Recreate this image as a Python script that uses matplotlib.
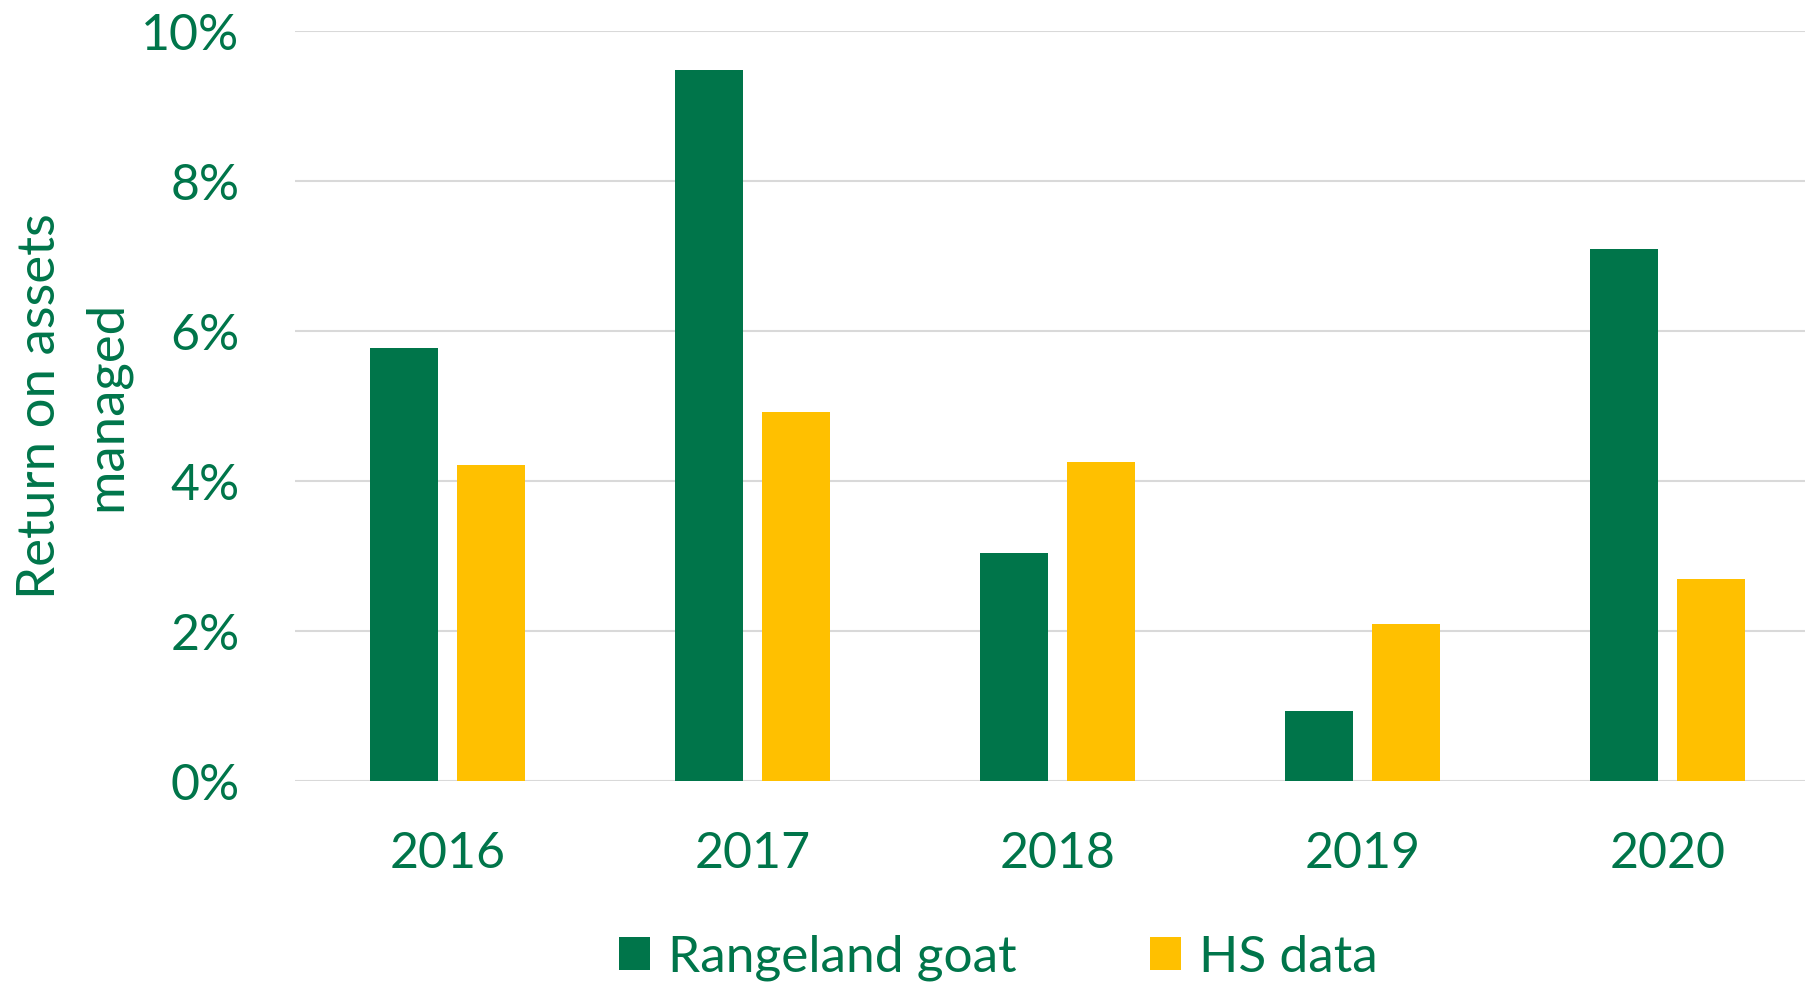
import numpy as np
import matplotlib.pyplot as plt
from matplotlib.ticker import FuncFormatter

years = ['2016', '2017', '2018', '2019', '2020']
rangeland_goat = [5.78, 9.48, 3.04, 0.94, 7.09]
hs_data = [4.22, 4.92, 4.25, 2.10, 2.70]

green = '#00754A'
yellow = '#FFC000'

plt.rcParams['font.family'] = ['Lato', 'DejaVu Sans']

fig = plt.figure(figsize=(18.05, 9.86), dpi=100)
# axes runs a bit past the right edge, like the original
ax = fig.add_axes([295 / 1805, 1 - 781 / 986, 1525 / 1805, 750 / 986])

x = np.arange(len(years))
w = 0.223
ax.bar(x - 0.143, rangeland_goat, w, color=green, label='Rangeland goat', zorder=3)
ax.bar(x + 0.143, hs_data, w, color=yellow, label='HS data', zorder=3)

ax.set_xlim(-0.5, len(years) - 0.5)
ax.set_ylim(0, 10)
ax.set_yticks([0, 2, 4, 6, 8, 10])
ax.yaxis.set_major_formatter(FuncFormatter(lambda v, p: f'{v:.0f}%'))
ax.set_xticks(x)
ax.set_xticklabels(years)

ax.grid(axis='y', color='#D9D9D9', linewidth=1.5, zorder=0)
for s in ax.spines.values():
    s.set_visible(False)
ax.tick_params(axis='both', length=0, labelsize=36, labelcolor=green)
ax.tick_params(axis='y', pad=40)
ax.tick_params(axis='x', pad=36)

ax.set_ylabel('Return on assets\nmanaged', fontsize=38, color=green,
              linespacing=1.5, labelpad=8)

fig.legend(loc='center', bbox_to_anchor=(0.553, 1 - 958 / 986), ncol=2,
           frameon=False, fontsize=37, labelcolor=green, handlelength=0.6,
           handleheight=0.6, columnspacing=2.6, handletextpad=0.35)

fig.savefig('out.png', dpi=100)
